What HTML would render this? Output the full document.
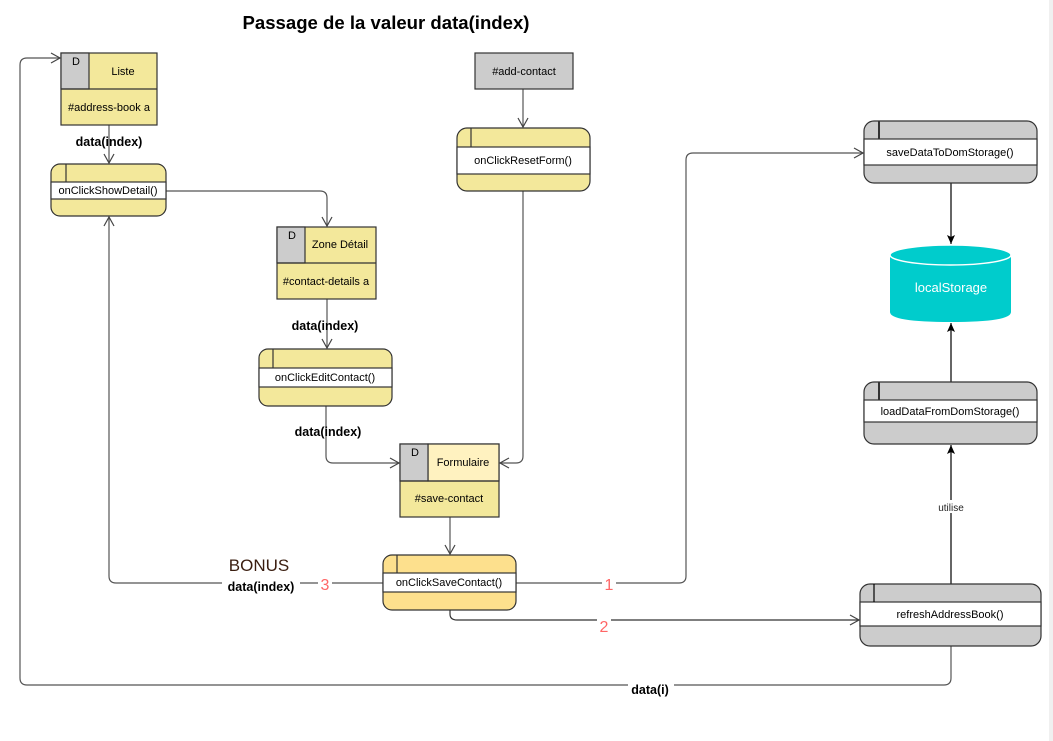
<!DOCTYPE html>
<html><head><meta charset="utf-8"><style>
html,body{margin:0;padding:0;background:#fff;}
svg{display:block;font-family:"Liberation Sans",Arial,sans-serif;}
</style></head><body>
<svg width="1053" height="741" viewBox="0 0 1053 741" xmlns="http://www.w3.org/2000/svg">
<defs>
<marker id="oa" markerWidth="12" markerHeight="12" refX="10" refY="6" orient="auto" markerUnits="userSpaceOnUse">
<path d="M1,1 L10,6 L1,11" fill="none" stroke="#444" stroke-width="1.2"/></marker>
<marker id="fa" markerWidth="10" markerHeight="10" refX="9" refY="5" orient="auto" markerUnits="userSpaceOnUse">
<path d="M0,1 L9,5 L0,9 L2,5 Z" fill="#000"/></marker>
</defs>
<rect x="1049" y="0" width="4" height="741" fill="#f0f0f0"/>
<text x="386" y="29" font-size="18" font-weight="bold" text-anchor="middle" textLength="287" lengthAdjust="spacingAndGlyphs">Passage de la valeur data(index)</text>

<g fill="none" stroke="#555" stroke-width="1.2">
<!-- Liste -> show -->
<path d="M109,125 V163" marker-end="url(#oa)"/>
<!-- show -> zone -->
<path d="M166,191 H320 Q327,191 327,198 V226" marker-end="url(#oa)"/>
<path d="M327,299 V348" marker-end="url(#oa)"/>
<path d="M326,406 V456 Q326,463 333,463 H399" marker-end="url(#oa)"/>
<path d="M523,89 V127" marker-end="url(#oa)"/>
<path d="M523,190 V456 Q523,463 516,463 H500" marker-end="url(#oa)"/>
<path d="M450,517 V554" marker-end="url(#oa)"/>
<!-- save -> left -->
<path d="M383,583 H116 Q109,583 109,576 V217" marker-end="url(#oa)"/>
<!-- save -> right 1 -->
<path d="M516,583 H679 Q686,583 686,576 V160 Q686,153 693,153 H863" marker-end="url(#oa)"/>
<!-- save -> refresh 2 -->
<path d="M450,610 V614 Q450,620 457,620 H859" stroke="#333" marker-end="url(#oa)"/>
<!-- refresh -> liste -->
<path d="M951,646 V678 Q951,685 944,685 H27 Q20,685 20,678 V65 Q20,58 27,58 H60" marker-end="url(#oa)"/>
</g>
<g stroke="#000" stroke-width="1.2" fill="none">
<path d="M951,183 V244" marker-end="url(#fa)"/>
<path d="M951,382 V323" marker-end="url(#fa)"/>
<path d="M951,584 V445" marker-end="url(#fa)"/>
</g>

<!-- Liste -->
<g stroke="#333" stroke-width="1.2">
<rect x="61" y="53" width="96" height="72" fill="#f3e89b"/>
<rect x="61" y="53" width="28" height="36" fill="#cccccc"/>
<line x1="61" y1="89" x2="157" y2="89"/>
</g>
<text x="72" y="65" font-size="11">D</text>
<text x="123" y="75" font-size="11" text-anchor="middle">Liste</text>
<text x="109" y="111" font-size="11" text-anchor="middle">#address-book a</text>

<!-- Zone -->
<g stroke="#333" stroke-width="1.2">
<rect x="277" y="227" width="99" height="72" fill="#f3e89b"/>
<rect x="277" y="227" width="28" height="36" fill="#cccccc"/>
<line x1="277" y1="263" x2="376" y2="263"/>
</g>
<text x="288" y="239" font-size="11">D</text>
<text x="340" y="248" font-size="11" text-anchor="middle">Zone Détail</text>
<text x="326" y="285" font-size="11" text-anchor="middle">#contact-details a</text>

<!-- Formulaire -->
<g stroke="#333" stroke-width="1.2">
<rect x="400" y="444" width="99" height="73" fill="#f3e89b"/>
<rect x="428" y="444" width="71" height="37" fill="#fff2c0"/>
<rect x="400" y="444" width="28" height="37" fill="#cccccc"/>
<line x1="400" y1="481" x2="499" y2="481"/>
</g>
<text x="411" y="456" font-size="11">D</text>
<text x="463" y="466" font-size="11" text-anchor="middle">Formulaire</text>
<text x="449" y="502" font-size="11" text-anchor="middle">#save-contact</text>

<!-- add-contact -->
<rect x="475" y="53" width="98" height="36" fill="#cccccc" stroke="#333" stroke-width="1.2"/>
<text x="524" y="75" font-size="11" text-anchor="middle">#add-contact</text>

<!-- process boxes -->
<g stroke="#333" stroke-width="1.2">
<rect x="51" y="164" width="115" height="52" rx="9" fill="#f3e89b"/>
<rect x="51" y="182" width="115" height="17" fill="#fff"/>
<line x1="66" y1="164" x2="66" y2="182"/>

<rect x="259" y="349" width="133" height="57" rx="9" fill="#f3e89b"/>
<rect x="259" y="368" width="133" height="19" fill="#fff"/>
<line x1="273" y1="349" x2="273" y2="368"/>

<rect x="457" y="128" width="133" height="63" rx="10" fill="#f3e89b"/>
<rect x="457" y="147" width="133" height="27" fill="#fff"/>
<line x1="471" y1="128" x2="471" y2="147"/>

<rect x="383" y="555" width="133" height="55" rx="9" fill="#fde08d"/>
<rect x="383" y="573" width="133" height="19" fill="#fff"/>
<line x1="397" y1="555" x2="397" y2="573"/>

<rect x="864" y="121" width="173" height="62" rx="10" fill="#cccccc"/>
<rect x="864" y="139" width="173" height="26" fill="#fff"/>
<line x1="879" y1="121" x2="879" y2="139" stroke-width="2"/>

<rect x="864" y="382" width="173" height="62" rx="10" fill="#cccccc"/>
<rect x="864" y="400" width="173" height="22" fill="#fff"/>
<line x1="879" y1="382" x2="879" y2="400" stroke-width="2"/>

<rect x="860" y="584" width="181" height="62" rx="10" fill="#cccccc"/>
<rect x="860" y="602" width="181" height="24" fill="#fff"/>
<line x1="874" y1="584" x2="874" y2="602" stroke="#000"/>
</g>
<g font-size="11" text-anchor="middle">
<text x="108" y="194">onClickShowDetail()</text>
<text x="325" y="381">onClickEditContact()</text>
<text x="523" y="164">onClickResetForm()</text>
<text x="449" y="586">onClickSaveContact()</text>
<text x="950" y="156">saveDataToDomStorage()</text>
<text x="950" y="415">loadDataFromDomStorage()</text>
<text x="950" y="618">refreshAddressBook()</text>
</g>

<!-- cylinder -->
<path d="M890,255 V312 Q890,322 951,322 Q1011,322 1011,312 V255 Z" fill="#00cccc"/>
<ellipse cx="950.5" cy="255" rx="60.5" ry="10" fill="#00cccc" stroke="#fff" stroke-width="1.5"/>
<text x="951" y="292" font-size="13" fill="#fff" text-anchor="middle">localStorage</text>

<!-- labels -->
<g font-size="12.5" font-weight="bold" text-anchor="middle">
<text x="109" y="146">data(index)</text>
<text x="325" y="330">data(index)</text>
<text x="328" y="436">data(index)</text>
<rect x="222" y="578" width="78" height="14" fill="#fff"/>
<text x="261" y="591">data(index)</text>
<rect x="628" y="680" width="46" height="14" fill="#fff"/>
<text x="650" y="694">data(i)</text>
</g>
<text x="259" y="571" font-size="17" fill="#3a1d0f" text-anchor="middle">BONUS</text>
<g font-size="16" fill="#ff6666" text-anchor="middle">
<rect x="318" y="576" width="14" height="16" fill="#fff"/>
<text x="325" y="590">3</text>
<rect x="602" y="576" width="14" height="16" fill="#fff"/>
<text x="609" y="590">1</text>
<rect x="597" y="617" width="14" height="16" fill="#fff"/>
<text x="604" y="632">2</text>
</g>
<rect x="935" y="500" width="32" height="13" fill="#fff"/>
<text x="951" y="511" font-size="10" text-anchor="middle" fill="#222">utilise</text>
</svg>
</body></html>
